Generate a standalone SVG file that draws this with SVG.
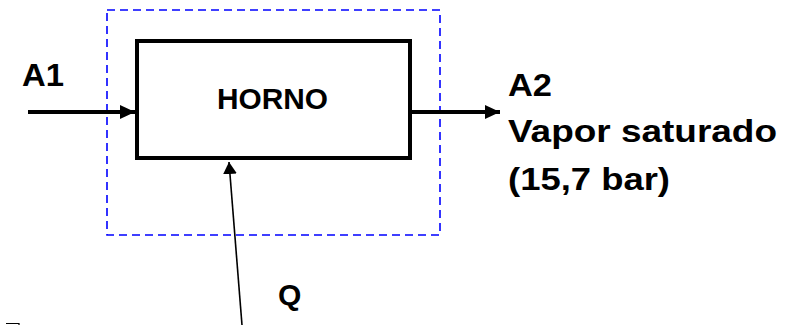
<svg xmlns="http://www.w3.org/2000/svg" width="802" height="325" viewBox="0 0 802 325">
<style>
.t{font-family:"Liberation Sans",Arial,sans-serif;font-weight:bold;fill:#000}
.thick{stroke:#000;stroke-width:4;fill:none}
</style>
<defs>
<marker id="ah" markerWidth="16" markerHeight="14" refX="15" refY="7" orient="auto" markerUnits="userSpaceOnUse"><path d="M0,0L15,7L0,14Z" fill="#000"/></marker>
<marker id="ahq" markerWidth="14" markerHeight="14" refX="12" refY="7" orient="auto" markerUnits="userSpaceOnUse"><path d="M0,0L12,7L0,14Z" fill="#000"/></marker>
</defs>
<rect id="boundary" x="107" y="10" width="333" height="225" fill="none" stroke="#0000ff" stroke-width="1.6" stroke-dasharray="8,5"/>
<g id="horno">
<rect x="137" y="41" width="273" height="117" class="thick" fill="#fff"/>
<text class="t" x="217" y="109" font-size="29" textLength="111" lengthAdjust="spacingAndGlyphs">HORNO</text>
</g>
<g id="connectors">
<line x1="28" y1="112" x2="135" y2="112" stroke="#000" stroke-width="4" marker-end="url(#ah)"/>
<line x1="410" y1="112" x2="500" y2="112" stroke="#000" stroke-width="4" marker-end="url(#ah)"/>
<line x1="242" y1="325" x2="229" y2="162" stroke="#000" stroke-width="1.6" marker-end="url(#ahq)"/>
</g>
<g id="labels">
<text class="t" x="22" y="86" font-size="31" textLength="42" lengthAdjust="spacingAndGlyphs">A1</text>
<text class="t" x="508" y="96" font-size="31" textLength="44" lengthAdjust="spacingAndGlyphs">A2</text>
<text class="t" x="508" y="142" font-size="31" textLength="269" lengthAdjust="spacingAndGlyphs">Vapor saturado</text>
<text class="t" x="508" y="190" font-size="31" textLength="162" lengthAdjust="spacingAndGlyphs">(15,7 bar)</text>
<text class="t" x="278" y="305" font-size="30">Q</text>
</g>
<path d="M6,323.5H19V325" fill="none" stroke="#000" stroke-width="1.2"/>
</svg>
